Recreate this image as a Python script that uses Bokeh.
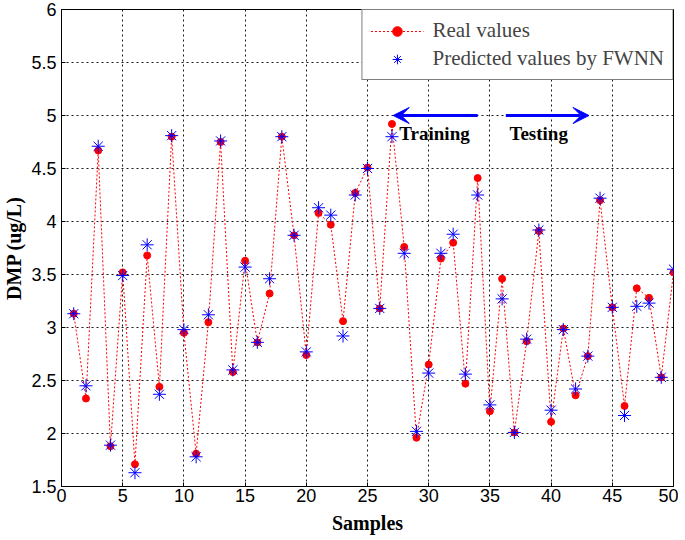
from bokeh.plotting import figure
from bokeh.models import (Legend, LegendItem, Arrow, VeeHead, Label,
                          FixedTicker, ColumnDataSource)
from bokeh.embed import file_html
from bokeh.resources import INLINE

samples = list(range(1, 51))
real_values = [3.13, 2.33, 4.67, 1.88, 3.52, 1.71, 3.68, 2.44, 4.80, 2.95,
               1.81, 3.05, 4.75, 2.58, 3.63, 2.86, 3.32, 4.80, 3.87, 2.74,
               4.08, 3.97, 3.06, 4.27, 4.51, 3.18, 4.92, 3.76, 1.96, 2.65,
               3.65, 3.80, 2.47, 4.41, 2.21, 3.46, 2.01, 2.87, 3.91, 2.11,
               2.99, 2.36, 2.73, 4.20, 3.19, 2.26, 3.37, 3.28, 2.53, 3.52]
pred_values = [3.13, 2.45, 4.71, 1.89, 3.49, 1.63, 3.78, 2.37, 4.81, 2.98,
               1.78, 3.12, 4.76, 2.60, 3.57, 2.86, 3.46, 4.80, 3.87, 2.77,
               4.13, 4.06, 2.92, 4.25, 4.50, 3.18, 4.80, 3.70, 2.02, 2.57,
               3.70, 3.88, 2.56, 4.25, 2.27, 3.27, 2.01, 2.89, 3.92, 2.22,
               2.98, 2.42, 2.73, 4.22, 3.19, 2.17, 3.20, 3.23, 2.53, 3.55]
x_ticks = [0, 5, 10, 15, 20, 25, 30, 35, 40, 45, 50]
y_ticks = [1.5, 2, 2.5, 3, 3.5, 4, 4.5, 5, 5.5, 6]

# annotation arrows (x_start, x_end, y) and labels
train_arrow = (34.0, 27.1, 5.0)
test_arrow = (36.3, 43.1, 5.0)
train_label = (27.6, 4.83, "Training")
test_label = (36.6, 4.83, "Testing")

src = ColumnDataSource(dict(x=samples, real=real_values, pred=pred_values))

p = figure(width=678, height=536, x_range=(0, 50), y_range=(1.5, 6),
           output_backend="svg", toolbar_location=None,
           min_border_left=61, min_border_right=5, min_border_top=9,
           min_border_bottom=50)
p.background_fill_color = "white"
p.border_fill_color = "white"
p.outline_line_color = "black"
p.outline_line_width = 1

serif = "Liberation Serif"
sans = "Liberation Sans"

for ax in (p.xaxis[0], p.yaxis[0]):
    ax.major_label_text_font = sans
    ax.major_label_text_font_size = "18px"
    ax.major_label_text_color = "black"
    ax.axis_label_text_font = serif
    ax.axis_label_text_font_style = "bold"
    ax.axis_label_text_font_size = "20px"
    ax.axis_label_text_color = "black"
    ax.major_tick_in = 4
    ax.major_tick_out = 0
    ax.minor_tick_line_color = None
    ax.axis_line_color = "black"
    ax.major_tick_line_color = "black"

p.xaxis.axis_label = "Samples"
p.yaxis.axis_label = "DMP (ug/L)"
p.xaxis.ticker = FixedTicker(ticks=x_ticks)
p.yaxis.ticker = FixedTicker(ticks=y_ticks)
p.xaxis.major_label_standoff = 2
p.yaxis.major_label_standoff = 5
p.xaxis.axis_label_standoff = 7
p.yaxis.axis_label_standoff = 3

p.xgrid.ticker = FixedTicker(ticks=x_ticks)
p.ygrid.ticker = FixedTicker(ticks=y_ticks)
for g in (p.xgrid[0], p.ygrid[0]):
    g.grid_line_color = "black"
    g.grid_line_dash = "2 3"
    g.grid_line_width = 1
    g.grid_line_alpha = 0.9

line = p.line("x", "real", source=src, line_color="red", line_dash="2 2", line_width=1)
dots = p.scatter("x", "real", source=src, marker="circle", size=7,
                 fill_color="red", line_color="red")
stars = p.scatter("x", "pred", source=src, marker="asterisk", size=13,
                  line_color="blue", line_width=1)

for (xs, xe, yy) in (train_arrow, test_arrow):
    p.add_layout(Arrow(end=VeeHead(size=16, fill_color="blue", line_color="blue"),
                       x_start=xs, y_start=yy, x_end=xe, y_end=yy,
                       line_color="blue", line_width=3))

for (lx, ly, txt) in (train_label, test_label):
    p.add_layout(Label(x=lx, y=ly, text=txt, text_font=serif, text_font_style="bold",
                       text_font_size="19px", text_color="black",
                       text_baseline="middle", text_align="left"))

legend = Legend(items=[LegendItem(label="Real values", renderers=[line, dots]),
                       LegendItem(label="Predicted values by FWNN", renderers=[stars])],
                location="top_right")
legend.label_text_font = serif
legend.label_text_font_size = "21px"
legend.border_line_color = "black"
legend.border_line_width = 1
legend.margin = 0
legend.padding = 8
legend.spacing = 3
legend.glyph_width = 53
legend.glyph_height = 24
legend.label_height = 24
legend.label_standoff = 9
legend.background_fill_alpha = 1
p.add_layout(legend)

open("out.html", "w").write(file_html(p, INLINE))
